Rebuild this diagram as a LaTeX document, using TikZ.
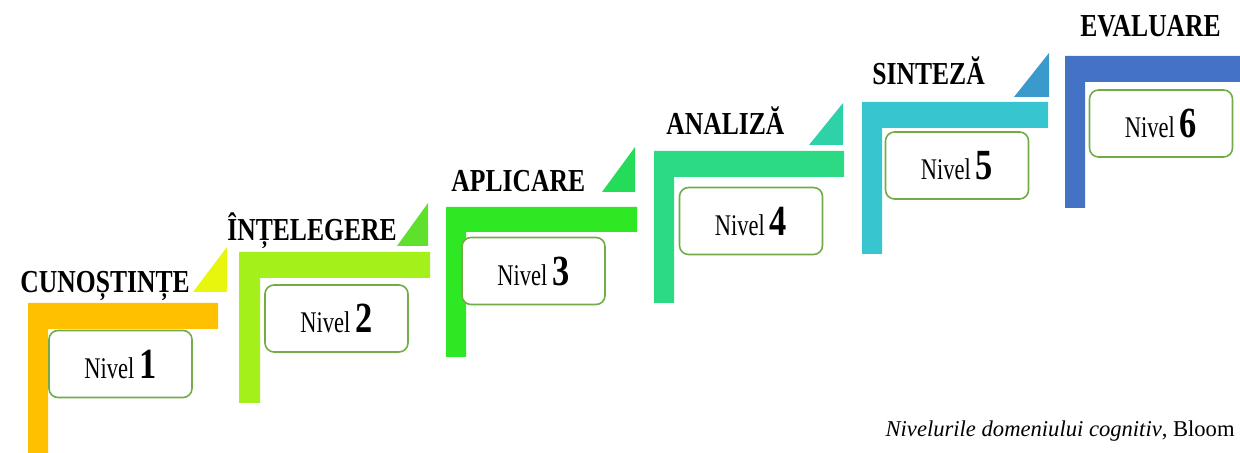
\documentclass[tikz,border=0pt]{standalone}
\usepackage{fontspec}
\setmainfont{Liberation Serif}
\newfontfamily\headfont[FakeStretch=0.8]{Liberation Serif}
\newfontfamily\nivfont[FakeStretch=0.75]{Liberation Serif}
\usepackage{xcolor}
\usepackage{tikz}
\usetikzlibrary{positioning}

\definecolor{stepone}{HTML}{FFC000}
\definecolor{steptwo}{HTML}{A4F01A}
\definecolor{stepthree}{HTML}{2EE824}
\definecolor{stepfour}{HTML}{2BDA82}
\definecolor{stepfive}{HTML}{37C6CF}
\definecolor{stepsix}{HTML}{4472C4}
\definecolor{tipone}{HTML}{E8F50C}
\definecolor{tiptwo}{HTML}{5EE02C}
\definecolor{tipthree}{HTML}{25DC5A}
\definecolor{tipfour}{HTML}{2FD1A8}
\definecolor{tipfive}{HTML}{3A9ACC}
\definecolor{boxgreen}{HTML}{70AD47}

\newcommand{\nivel}[1]{{\nivfont\fontsize{15}{15}\selectfont Nivel} {\headfont\bfseries\fontsize{21.5}{21.5}\selectfont #1}}

\begin{document}
\begin{tikzpicture}[x=0.5pt, y=-0.5pt]
        \tikzstyle{level} = [rectangle, draw=boxgreen, line width=0.8pt, fill=white, rounded corners=4.5pt, minimum width=71.5pt, minimum height=33.5pt, inner sep=0pt]
        \tikzstyle{title} = [anchor=base west, inner sep=0pt, font=\headfont\bfseries\fontsize{16}{16}\selectfont]

        \useasboundingbox (0,0) rectangle (1240,453);

        % stairs
        \fill[stepone] (28,303) -- (218,303) -- (218,329) -- (48,329) -- (48,454) -- (28,454) -- cycle;
        \fill[steptwo] (239,252) -- (430,252) -- (430,278) -- (260,278) -- (260,403) -- (239,403) -- cycle;
        \fill[stepthree] (446,207) -- (637,207) -- (637,232) -- (466,232) -- (466,357) -- (446,357) -- cycle;
        \fill[stepfour] (654,151) -- (844,151) -- (844,177) -- (674,177) -- (674,303) -- (654,303) -- cycle;
        \fill[stepfive] (862,102) -- (1048,102) -- (1048,128) -- (882,128) -- (882,254) -- (862,254) -- cycle;
        \fill[stepsix] (1065,56) -- (1240,56) -- (1240,82) -- (1085,82) -- (1085,208) -- (1065,208) -- cycle;

        \fill[tipone] (193,292) -- (227,292) -- (227,247) -- cycle;
        \fill[tiptwo] (397,246) -- (428,246) -- (428,203) -- cycle;
        \fill[tipthree] (602,192) -- (635,192) -- (635,147) -- cycle;
        \fill[tipfour] (809,145) -- (843,145) -- (843,103) -- cycle;
        \fill[tipfive] (1014,97) -- (1049,97) -- (1049,53) -- cycle;

        % levels
        \node [level] (nivel1) at (120.5,364) {\nivel{1}};
        \node [level] (nivel2) at (336.5,318.5) {\nivel{2}};
        \node [level] (nivel3) at (533.5,271) {\nivel{3}};
        \node [level] (nivel4) at (751,221) {\nivel{4}};
        \node [level] (nivel5) at (957,165.5) {\nivel{5}};
        \node [level] (nivel6) at (1161,123.5) {\nivel{6}};

        \node [title] (cunostinte) at (20,293) {CUNOȘTINȚE};
        \node [title] (intelegere) at (227,241) {ÎNȚELEGERE};
        \node [title] (aplicare) at (451,192) {APLICARE};
        \node [title] (analiza) at (666,135) {ANALIZĂ};
        \node [title] (sinteza) at (872,85) {SINTEZĂ};
        \node [title] (evaluare) at (1080,37) {EVALUARE};

        \node [anchor=base east, inner sep=0pt, font=\fontsize{11.3}{11.3}\selectfont] (source) at (1235,437) {\textit{Nivelurile domeniului cognitiv}, Bloom};
    \end{tikzpicture}
\end{document}
